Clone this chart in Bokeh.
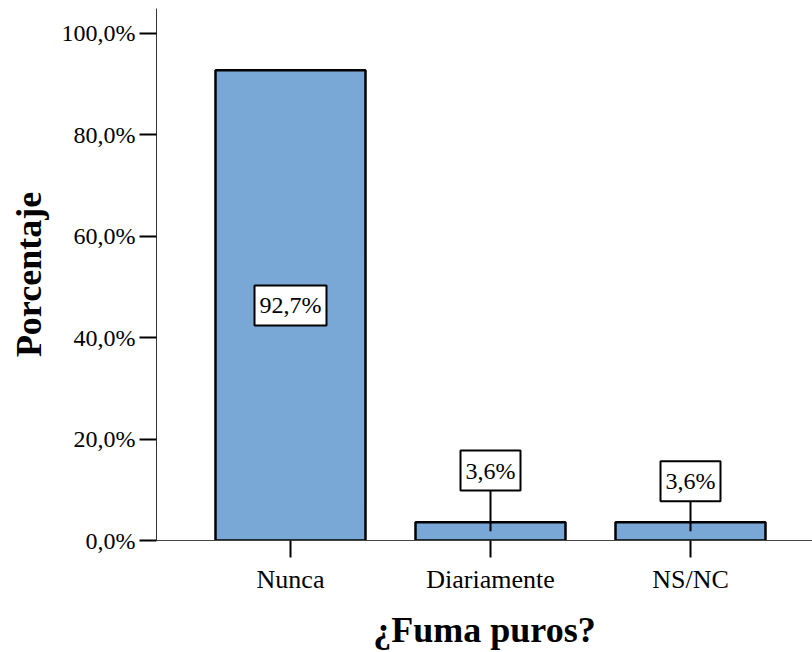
from bokeh.plotting import figure
from bokeh.models import Range1d, FixedTicker, ColumnDataSource, Label
from bokeh.embed import file_html
from bokeh.resources import INLINE

categories = ["Nunca", "Diariamente", "NS/NC"]
percentages = [92.7, 3.6, 3.6]
label_texts = ["92,7%", "3,6%", "3,6%"]
label_y = [46.35, 13.8, 11.7]
y_ticks = [0, 20, 40, 60, 80, 100]

xpos = [i + 1 for i in range(len(categories))]
source = ColumnDataSource(dict(
    x=xpos,
    top=percentages,
    mid=[v / 2 for v in percentages],
    ly=label_y,
    txt=label_texts,
))

FONT = "Liberation Serif"

p = figure(width=812, height=652, output_backend="svg", toolbar_location=None,
           x_range=Range1d(0.33, 3.61), y_range=Range1d(0, 104.9),
           min_border_left=156, min_border_right=0, min_border_top=8,
           min_border_bottom=112)
p.outline_line_color = None
p.xgrid.visible = False
p.ygrid.visible = False
p.background_fill_color = "white"
p.border_fill_color = "white"

p.vbar(x="x", top="top", bottom=0, width=0.75, source=source,
       fill_color="#7aa8d6", line_color="black", line_width=2.5)
p.segment(x0="x", y0="mid", x1="x", y1="ly", source=source,
          line_color="black", line_width=2)

for x, y, t in zip(xpos, label_y, label_texts):
    p.add_layout(Label(x=x, y=y, text=t,
                       text_align="center", text_baseline="middle",
                       text_font=FONT, text_font_size="24px", text_color="black",
                       background_fill_color="white", border_line_color="black",
                       border_line_width=2, padding=(5, 7)))

# Y axis
ya = p.yaxis[0]
ya.ticker = FixedTicker(ticks=y_ticks)
ya.major_label_overrides = {t: (f"{t:.1f}%").replace(".", ",") for t in y_ticks}
ya.minor_tick_line_color = None
ya.major_tick_out = 17
ya.major_tick_in = 0
ya.major_tick_line_width = 2
ya.major_tick_line_color = "black"
ya.axis_line_color = "#333333"
ya.axis_line_width = 1
ya.major_label_text_font = FONT
ya.major_label_text_font_size = "24px"
ya.major_label_text_color = "black"
ya.major_label_standoff = 4
ya.axis_label = "Porcentaje"
ya.axis_label_text_font = FONT
ya.axis_label_text_font_size = "36px"
ya.axis_label_text_font_style = "bold"
ya.axis_label_text_color = "black"
ya.axis_label_standoff = 10

# X axis
xa = p.xaxis[0]
xa.ticker = FixedTicker(ticks=xpos)
xa.major_label_overrides = {x: c for x, c in zip(xpos, categories)}
xa.minor_tick_line_color = None
xa.major_tick_out = 17
xa.major_tick_in = 0
xa.major_tick_line_width = 2
xa.major_tick_line_color = "black"
xa.axis_line_color = "#444444"
xa.axis_line_width = 1
xa.major_label_text_font = FONT
xa.major_label_text_font_size = "26px"
xa.major_label_text_color = "black"
xa.major_label_standoff = 7
xa.axis_label = "¿Fuma puros?"
xa.axis_label_text_font = FONT
xa.axis_label_text_font_size = "36px"
xa.axis_label_text_font_style = "bold"
xa.axis_label_text_color = "black"
xa.axis_label_standoff = 13

open("out.html", "w").write(file_html(p, INLINE))
